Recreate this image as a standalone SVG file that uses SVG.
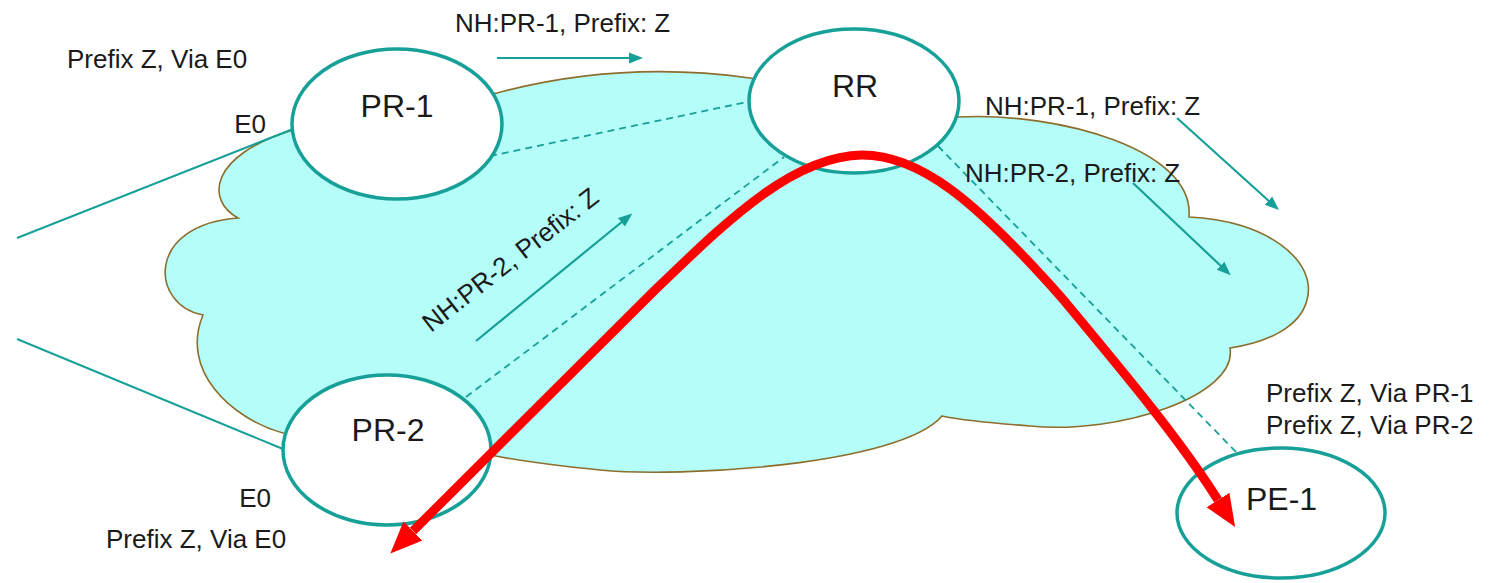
<svg xmlns="http://www.w3.org/2000/svg" width="1503" height="583" viewBox="0 0 1503 583">
<defs>
<style>
.txt{font-family:"Liberation Sans",Arial,sans-serif;font-size:26px;fill:#1a1a1a}
.lbl{font-family:"Liberation Sans",Arial,sans-serif;font-size:32px;fill:#1a1a1a}
.node{fill:#ffffff;stroke:#17a098;stroke-width:3.5}
.link{stroke:#17a098;stroke-width:2;fill:none}
.dash{stroke:#17a098;stroke-width:1.8;fill:none;stroke-dasharray:7 5}
.msg{stroke:#17a098;stroke-width:2.2;fill:none;marker-end:url(#sa)}
.path{stroke:#ff0000;stroke-width:9;fill:none;stroke-linejoin:round;marker-start:url(#ra);marker-end:url(#ra)}
</style>
<marker id="sa" markerUnits="userSpaceOnUse" markerWidth="16" markerHeight="14" refX="2" refY="7" orient="auto">
<path d="M0,1.5 L14,7 L0,12.5 z" fill="#17a098"/>
</marker>
<marker id="ra" markerUnits="userSpaceOnUse" markerWidth="34" markerHeight="30" refX="0" refY="15" orient="auto-start-reverse">
<path d="M0,1.5 L32,15 L0,28.5 z" fill="#ff0000"/>
</marker>
</defs>
<rect width="1503" height="583" fill="#ffffff"/>
<g id="cloud">
<path d="M238,218 C205,200 210,155 293,130 L497,93 Q620,60 750,78 L959,117 C1060,112 1195,150 1189,217 C1265,220 1318,260 1307,300 C1300,328 1265,343 1230,348 C1238,395 1120,435 1030,426 C990,423 960,420 942,416 C900,465 680,478 600,470 C550,465 515,460 490,455 L283,433 C230,418 180,370 203,315 C150,305 145,225 238,218 Z" fill="#b4fdf8" stroke="#8c6d2c" stroke-width="1.6"/>
</g>
<g id="connectors">
<line class="link" x1="17" y1="238" x2="293" y2="129"/>
<line class="link" x1="17" y1="339" x2="283" y2="449"/>
<line class="dash" x1="490" y1="156" x2="752" y2="101"/>
<line class="dash" x1="466" y1="397" x2="784" y2="157"/>
<line class="dash" x1="938" y1="146" x2="1238" y2="454"/>
<line class="msg" x1="497" y1="58" x2="631" y2="58"/>
<line class="msg" x1="1177" y1="118" x2="1270" y2="202"/>
<line class="msg" x1="1133" y1="183" x2="1222" y2="267"/>
<line class="msg" x1="476" y1="341" x2="623" y2="221"/>
</g>
<g id="PR-1"><ellipse class="node" cx="397" cy="124" rx="105" ry="75"/><text class="lbl" x="397" y="117" text-anchor="middle">PR-1</text></g>
<g id="RR"><ellipse class="node" cx="854" cy="101" rx="105" ry="72"/><text class="lbl" x="855" y="97" text-anchor="middle">RR</text></g>
<g id="PR-2"><ellipse class="node" cx="387" cy="450" rx="104" ry="75"/><text class="lbl" x="388" y="441" text-anchor="middle">PR-2</text></g>
<g id="PE-1"><ellipse class="node" cx="1281" cy="513" rx="104" ry="65"/><text class="lbl" x="1246" y="510">PE-1</text></g>
<g id="route">
<path class="path" d="M413,531 L655,290 C720,228 790,156 862,155 C920,155 975,200 1061,297 C1130,380 1180,440 1218,500"/>
</g>
<g id="labels">
<text class="txt" x="455" y="32">NH:PR-1, Prefix: Z</text>
<text class="txt" x="67" y="68">Prefix Z, Via E0</text>
<text class="txt" x="266" y="133" text-anchor="end">E0</text>
<text class="txt" x="985" y="115">NH:PR-1, Prefix: Z</text>
<text class="txt" x="965" y="182">NH:PR-2, Prefix: Z</text>
<text class="txt" transform="translate(431,333) rotate(-38)">NH:PR-2, Prefix: Z</text>
<text class="txt" x="271" y="507" text-anchor="end">E0</text>
<text class="txt" x="106" y="548">Prefix Z, Via E0</text>
<text class="txt" x="1266" y="402">Prefix Z, Via PR-1</text>
<text class="txt" x="1266" y="434">Prefix Z, Via PR-2</text>
</g>
</svg>
